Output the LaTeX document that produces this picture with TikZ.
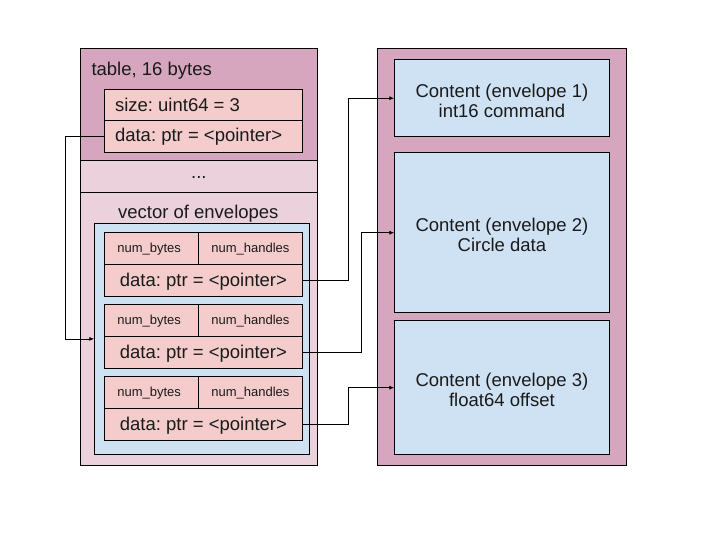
\documentclass[tikz,border=0pt]{standalone}
\usepackage{fontspec}
\setmainfont{Liberation Sans}
\usetikzlibrary{arrows.meta}
\definecolor{mauve}{HTML}{D5A6BD}
\definecolor{lmauve}{HTML}{EAD1DC}
\definecolor{rosebox}{HTML}{F4CCCC}
\definecolor{bluebox}{HTML}{CFE2F3}
\definecolor{ink}{HTML}{1A1A1A}
\newcommand{\bigtxtfont}{\fontsize{18.5}{20}\selectfont\frenchspacing}
\tikzset{
  box/.style={draw=black, line width=0.8pt, rectangle, inner sep=0pt, anchor=north west, text=ink},
  bigtxt/.style={font=\bigtxtfont, text=ink},
  smalltxt/.style={font=\fontsize{13}{15}\selectfont, text=ink},
  arr/.style={draw=black, line width=0.8pt, -{Latex[length=5pt,width=4pt]}},
}
\newcommand{\bx}[7]{\node[box, fill=#2, minimum width=#5pt, minimum height=#6pt] (#1) at (#3,#4) {#7};}
\begin{document}
\begin{tikzpicture}[x=1pt,y=-1pt]
\useasboundingbox (0,0) rectangle (720,540);
% left column
\bx{tablesec}{mauve}{80}{48}{237}{112}{}
\bx{dotssec}{lmauve}{80}{160}{237}{32}{}
\node[bigtxt] (dots) at ([yshift=-1.5pt]dotssec.center) {...};
\bx{vecsec}{lmauve}{80}{192}{237}{273}{}
\node[bigtxt, anchor=west] (tlabel) at (88,70.5) {table, 16 bytes};
\bx{tsize}{rosebox}{104.3}{88.7}{197.4}{31.3}{}
\node[bigtxt, anchor=west] (tsizet) at (111.5,105.3) {size: uint64 = 3};
\bx{tdata}{rosebox}{104.3}{120}{197.4}{32.3}{}
\node[bigtxt, anchor=west] (tdatat) at (111.5,137.1) {data: ptr = <pointer>};
\node[bigtxt] (vlabel) at (198.3,214) {vector of envelopes};
\bx{blue}{bluebox}{94.3}{222.7}{214.4}{231.6}{}
% envelopes
\foreach \i/\y in {1/232.3, 2/304.3, 3/376.3}{
  \bx{e\i nb}{rosebox}{104.3}{\y}{94}{32}{}
  \node[smalltxt, anchor=west] at ([xshift=9.5pt,yshift=-0.8pt]e\i nb.west) {num\_bytes};
  \bx{e\i nh}{rosebox}{198.3}{\y}{103.4}{32}{}
  \node[smalltxt, anchor=west] at ([xshift=9.5pt,yshift=-0.8pt]e\i nh.west) {num\_handles};
  \bx{e\i data}{rosebox}{104.3}{\y+32}{197.4}{32}{}
  \node[bigtxt] at ([yshift=-1pt]e\i data.center) {data: ptr = <pointer>};
}
% right column
\bx{rsec}{mauve}{376.7}{48.3}{249.3}{416.7}{}
\bx{c1}{bluebox}{394.3}{59.3}{214.4}{77}{}
\node[bigtxt, align=center] (c1t) at ([yshift=-2.5pt]c1.center) {Content (envelope 1)\\int16 command};
\bx{c2}{bluebox}{394.3}{152.3}{214.4}{160}{}
\node[bigtxt, align=center] (c2t) at ([yshift=-2.5pt]c2.center) {Content (envelope 2)\\Circle data};
\bx{c3}{bluebox}{394.3}{320.3}{214.4}{134}{}
\node[bigtxt, align=center] (c3t) at ([yshift=-2.5pt]c3.center) {Content (envelope 3)\\float64 offset};
% connectors
\draw[arr] (tdata.west) -- ([xshift=-38.6pt]tdata.west) |- (blue.west);
\draw[arr] (e1data.east) -- ++(46,0) |- (c1.west);
\draw[arr] (e2data.east) -- ++(59.3,0) |- (c2.west);
\draw[arr] (e3data.east) -- ++(46,0) |- (c3.west);
\end{tikzpicture}
\end{document}
